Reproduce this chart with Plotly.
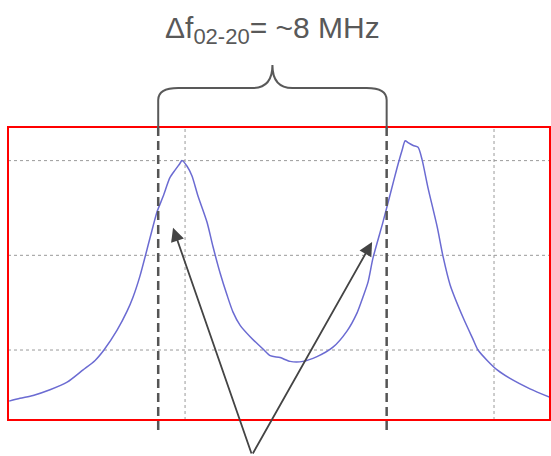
import plotly.graph_objects as go

# ---- data: trace (frequency in MHz, amplitude in divisions)
freq_mhz = [0.04, 0.42, 0.88, 1.47, 2.07, 2.63, 3.05, 3.36, 3.82, 4.17, 4.38, 4.62,
            4.97, 5.22, 5.43, 5.67, 5.85, 6.02, 6.09, 6.27, 6.44, 6.65, 6.97, 7.18,
            7.43, 7.67, 7.88, 8.13, 8.48, 8.93, 9.18, 9.53, 9.88, 10.33, 10.82, 11.38,
            11.87, 12.22, 12.43, 12.61, 12.78, 13.13, 13.38, 13.63, 13.80, 13.91, 14.01,
            14.19, 14.36, 14.50, 14.71, 15.03, 15.24, 15.48, 15.94, 16.29, 16.46, 16.78,
            17.13, 17.58, 18.28, 18.98]
amplitude = [0.46, 0.49, 0.52, 0.58, 0.66, 0.79, 0.89, 1.00, 1.21, 1.41, 1.56, 1.78,
             2.18, 2.46, 2.62, 2.82, 2.90, 2.97, 3.00, 2.94, 2.84, 2.63, 2.35, 2.09,
             1.81, 1.58, 1.40, 1.26, 1.14, 1.01, 0.94, 0.92, 0.88, 0.88, 0.93, 1.03,
             1.20, 1.39, 1.56, 1.72, 1.97, 2.35, 2.64, 2.93, 3.11, 3.21, 3.19,
             3.16, 3.14, 3.01, 2.71, 2.30, 1.98, 1.69, 1.34, 1.11, 1.00, 0.89,
             0.79, 0.70, 0.59, 0.50]

grid_x = [6.20, 17.02]
grid_y = [1, 2, 3]
marker_lines = [5.26, 13.26]          # the two resonance markers, 8 MHz apart
arrow_tips = [(5.78, 2.29), (12.75, 2.14)]
title_text = "Δf<sub><span style='font-size:22px'>02-20</span></sub>= ~8 MHz"

X_RANGE = [0.0, 18.98]
Y_RANGE = [0.261, 3.355]

W, H = 551, 456
ML, MR, MT, MB = 8, 1, 127, 36
PW, PH = W - ML - MR, H - MT - MB


def xp(x):  # data x -> paper
    return (x - X_RANGE[0]) / (X_RANGE[1] - X_RANGE[0])


def yp_px(py):  # pixel y -> paper
    return (H - MB - py) / PH


fig = go.Figure()
fig.add_trace(go.Scatter(x=freq_mhz, y=amplitude, mode="lines",
                         line=dict(color="#6b6bd2", width=1.5, shape="spline", smoothing=0.7),
                         hoverinfo="skip", showlegend=False))

shapes = []
# dotted grid
for gx in grid_x:
    shapes.append(dict(type="line", xref="x", yref="paper", x0=gx, x1=gx, y0=0, y1=1,
                       line=dict(color="#9a9a9a", width=1, dash="dot"), layer="below"))
for gy in grid_y:
    shapes.append(dict(type="line", xref="paper", yref="y", x0=0, x1=1, y0=gy, y1=gy,
                       line=dict(color="#9a9a9a", width=1, dash="dot"), layer="below"))

# red frame
shapes.append(dict(type="rect", xref="paper", yref="paper", x0=0, x1=1, y0=0, y1=1,
                   line=dict(color="#ff0000", width=2)))

# dashed marker lines
for mx in marker_lines:
    shapes.append(dict(type="line", xref="paper", yref="paper", x0=xp(mx), x1=xp(mx),
                       y0=yp_px(127), y1=yp_px(430),
                       line=dict(color="#555555", width=2.5, dash="9px,5px")))

# curly brace between the markers
xl, xr = xp(marker_lines[0]), xp(marker_lines[1])
xm = (xl + xr) / 2
dx = 20 / PW
yb, yh, yc = yp_px(127), yp_px(88), yp_px(65)
ycorner = yp_px(100)
path = (f"M {xl},{yb} L {xl},{ycorner} Q {xl},{yh} {xl+dx},{yh} "
        f"L {xm-dx},{yh} Q {xm},{yh} {xm},{yc} "
        f"Q {xm},{yh} {xm+dx},{yh} L {xr-dx},{yh} "
        f"Q {xr},{yh} {xr},{ycorner} L {xr},{yb}")
shapes.append(dict(type="path", xref="paper", yref="paper", path=path,
                   line=dict(color="#595959", width=2)))

annotations = []
tail_x_px, tail_y_px = 252, 455
for tx, ty in arrow_tips:
    tip_x_px = ML + xp(tx) * PW
    tip_y_px = MT + (Y_RANGE[1] - ty) / (Y_RANGE[1] - Y_RANGE[0]) * PH
    annotations.append(dict(x=tx, y=ty, xref="x", yref="y", text="", showarrow=True,
                            ax=tail_x_px - tip_x_px, ay=tail_y_px - tip_y_px,
                            arrowhead=2, arrowsize=1.5, arrowwidth=1.8,
                            arrowcolor="#444444", standoff=0))

annotations.append(dict(x=xm, y=yp_px(30), xref="paper", yref="paper",
                        text=title_text, showarrow=False,
                        xanchor="center", yanchor="middle",
                        font=dict(family="Liberation Sans, Arial, sans-serif",
                                  size=30, color="#595959")))

fig.update_layout(
    width=W, height=H,
    margin=dict(l=ML, r=MR, t=MT, b=MB),
    paper_bgcolor="white", plot_bgcolor="white",
    xaxis=dict(range=X_RANGE, showgrid=False, zeroline=False, showticklabels=False,
               ticks="", showline=False),
    yaxis=dict(range=Y_RANGE, showgrid=False, zeroline=False, showticklabels=False,
               ticks="", showline=False),
    shapes=shapes, annotations=annotations,
)

fig.write_html("out.html")
